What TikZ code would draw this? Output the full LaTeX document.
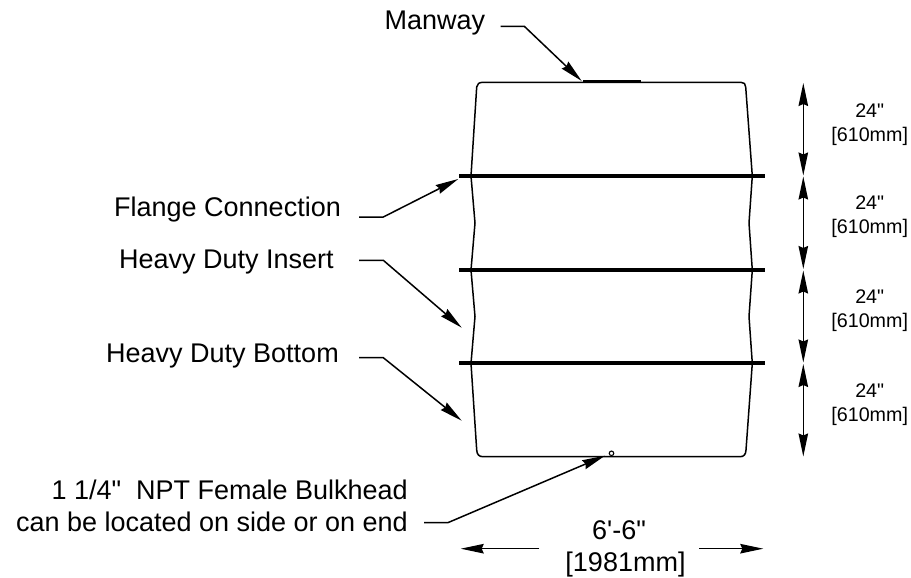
\documentclass[tikz,border=0pt]{standalone}
\usepackage{fontspec}
\setmainfont{Liberation Sans}[Ligatures=TeXOff]
\usetikzlibrary{arrows.meta}
\tikzset{
  x=1pt,y=-1pt,
  headtip/.tip={Stealth[length=23pt,width=9.5pt,inset=2pt]},
  tank/.style={draw=black,line width=1.5pt,line join=round},
  flange/.style={draw=black,line width=3.8pt},
  leader/.style={draw=black,line width=1.5pt,-headtip},
  dim/.style={draw=black,line width=1.5pt,headtip-headtip},
  dimout/.style={draw=black,line width=1.5pt,-headtip},
  lab/.style={inner sep=0pt,font=\fontsize{27}{32}\selectfont,anchor=base west},
  labr/.style={inner sep=0pt,font=\fontsize{27}{32}\selectfont,anchor=base east},
  dimlab/.style={inner sep=0pt,align=center,font=\fontsize{19.7}{24}\selectfont}
}
\begin{document}
\begin{tikzpicture}
\useasboundingbox (0,0) rectangle (911,578);
\path[tank] (483,82.3) -- (741,82.3) .. controls (744,82.3) and (745.7,84) .. (745.7,87)
 -- (752.3,176) -- (749,223) -- (752.3,270) -- (749,316.5) -- (752.3,363.3) -- (746,450)
 .. controls (745.7,454.5) and (744,456.7) .. (740,456.7) -- (483,456.7)
 .. controls (479,456.7) and (477,454.5) .. (476.7,450) -- (471,363.3) -- (475,316.5) -- (471,270) -- (475,223) -- (471,176) -- (476.7,87)
 .. controls (477,84) and (479,82.3) .. (483,82.3) -- cycle;
\coordinate (mw1) at (583,81.5); \coordinate (mw2) at (641,81.5);
\draw[draw=black,line width=2.8pt] (mw1) -- (mw2);
\coordinate (f1l) at (459,176); \coordinate (f1r) at (765,176);
\coordinate (f2l) at (459,269.7); \coordinate (f2r) at (765,269.7);
\coordinate (f3l) at (459,363.3); \coordinate (f3r) at (765,363.3);
\draw[flange] (f1l) -- (f1r);
\draw[flange] (f2l) -- (f2r);
\draw[flange] (f3l) -- (f3r);
\node[draw=black,line width=1.1pt,circle,minimum size=4.5pt,inner sep=0pt] (drain) at (611.5,453.3) {};
\node[lab] (manway) at (384.5,30) {Manway};
\node[lab] (flg) at (114,216) {Flange Connection};
\node[lab] (ins) at (119,268.3) {Heavy Duty Insert};
\node[lab] (bot) at (106,362.7) {Heavy Duty Bottom};
\node[labr] (bh1) at (408,499.3) {1 1/4"\ \ NPT Female Bulkhead};
\node[labr] (bh2) at (408,531.7) {can be located on side or on end};
\coordinate (s1) at (500.7,26.3); \coordinate (k1) at (524.3,26.3); \coordinate (a1) at (581.7,81);
\coordinate (s2) at (359,217); \coordinate (k2) at (383.3,217); \coordinate (a2) at (458.3,179);
\coordinate (s3) at (359,260.3); \coordinate (k3) at (383.3,260.3); \coordinate (a3) at (461.7,327.7);
\coordinate (s4) at (359,357.7); \coordinate (k4) at (383.3,357.7); \coordinate (a4) at (461.7,420.7);
\coordinate (s5) at (424,522.5); \coordinate (k5) at (448.3,522.5); \coordinate (a5) at (605,455.7);
\draw[leader] (s1) -- (k1) -- (a1);
\draw[leader] (s2) -- (k2) -- (a2);
\draw[leader] (s3) -- (k3) -- (a3);
\draw[leader] (s4) -- (k4) -- (a4);
\draw[leader] (s5) -- (k5) -- (a5);
\coordinate (d0) at (803.3,83);
\coordinate (d1a) at (803.3,175.5); \coordinate (d1b) at (803.3,176.5);
\coordinate (d2a) at (803.3,269); \coordinate (d2b) at (803.3,270.5);
\coordinate (d3a) at (803.3,362.5); \coordinate (d3b) at (803.3,364);
\coordinate (d4) at (803.3,456.5);
\draw[dim] (d0) -- (d1a);
\draw[dim] (d1b) -- (d2a);
\draw[dim] (d2b) -- (d3a);
\draw[dim] (d3b) -- (d4);
\node[dimlab] (l1) at (869.7,124.7) {24"\ \\{}[610mm]};
\node[dimlab] (l2) at (869.7,217) {24"\ \\{}[610mm]};
\node[dimlab] (l3) at (869.7,311) {24"\ \\{}[610mm]};
\node[dimlab] (l4) at (869.7,404.5) {24"\ \\{}[610mm]};
\node[inner sep=0pt,align=center,font=\fontsize{27}{32.4}\selectfont] (w) at (625.5,548.7) {6'-6"\hspace*{13pt}\\{}[1981mm]};
\coordinate (wl0) at (539.3,548.7); \coordinate (wl) at (460.7,548.7);
\coordinate (wr0) at (699,548.7); \coordinate (wr) at (763.3,548.7);
\draw[dimout] (wl0) -- (wl);
\draw[dimout] (wr0) -- (wr);
\end{tikzpicture}
\end{document}
